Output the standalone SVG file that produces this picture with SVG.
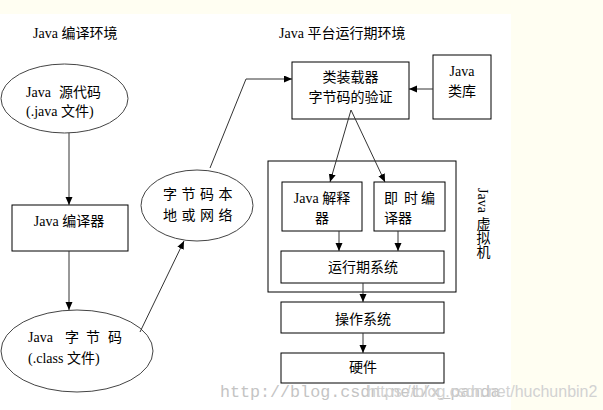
<svg xmlns="http://www.w3.org/2000/svg" width="603" height="410" viewBox="0 0 603 410">
<style>
  text { font-family: "Liberation Serif", "Noto Sans CJK SC", serif; font-size: 14px; fill: #000; }
  .c { text-anchor: middle; }
  .box { fill: #fff; stroke: #000; stroke-width: 1; }
  .ell { fill: #fff; stroke: #444; stroke-width: 1; }
  .ln { fill: none; stroke: #333; stroke-width: 1; }
  .wm1 { font-family: "Liberation Mono", monospace; font-size: 16.7px; fill: #c4c4c4; }
  .wm2 { font-family: "Liberation Sans", sans-serif; font-size: 16px; fill: #d2d2d2; }
</style>
<defs>
  <marker id="ah" markerUnits="userSpaceOnUse" markerWidth="9" markerHeight="8" refX="8" refY="3.5" orient="auto">
    <path d="M0,0 L8,3.5 L0,7 z" fill="#000"/>
  </marker>
</defs>
<rect x="0" y="0" width="603" height="410" fill="#fffef2"/>
<rect x="0" y="14" width="511" height="396" fill="#fff"/>

<text x="33" y="38">Java 编译环境</text>
<text x="279" y="38">Java 平台运行期环境</text>

<g id="src">
  <ellipse class="ell" cx="64.5" cy="98.5" rx="63.5" ry="34.5"/>
  <text y="97"><tspan x="26">Java</tspan><tspan x="59">源代码</tspan></text>
  <text x="26" y="116">(.java 文件)</text>
</g>
<g id="compiler">
  <rect class="box" x="12" y="205" width="116" height="46"/>
  <text class="c" x="69" y="226">Java 编译器</text>
</g>
<g id="bytecode">
  <ellipse class="ell" cx="77" cy="351" rx="76" ry="41"/>
  <text y="342"><tspan x="28">Java</tspan><tspan x="65">字</tspan><tspan x="86">节</tspan><tspan x="108">码</tspan></text>
  <text x="28" y="363">(.class 文件)</text>
</g>
<g id="net">
  <ellipse class="ell" cx="197" cy="205.5" rx="56" ry="35.5"/>
  <text y="199"><tspan x="163">字</tspan><tspan x="181.5">节</tspan><tspan x="200">码</tspan><tspan x="218.5">本</tspan></text>
  <text y="220"><tspan x="163">地</tspan><tspan x="181.5">或</tspan><tspan x="200">网</tspan><tspan x="218.5">络</tspan></text>
</g>
<g id="loader">
  <rect class="box" x="292" y="62" width="117" height="57"/>
  <text class="c" x="350.5" y="82">类装载器</text>
  <text class="c" x="350.5" y="102">字节码的验证</text>
</g>
<g id="lib">
  <rect class="box" x="433" y="55" width="58" height="64"/>
  <text class="c" x="462" y="76">Java</text>
  <text class="c" x="462" y="96">类库</text>
</g>
<g id="jvm">
  <rect class="box" x="268" y="161" width="188" height="131"/>
  <text x="482" y="188" style="writing-mode: vertical-rl;">Java 虚拟机</text>
</g>
<g id="interp">
  <rect class="box" x="282" y="182" width="80" height="49"/>
  <text class="c" x="322" y="203">Java 解释</text>
  <text class="c" x="322" y="223">器</text>
</g>
<g id="jit">
  <rect class="box" x="374" y="182" width="71" height="49"/>
  <text y="203"><tspan x="384">即</tspan><tspan x="404">时</tspan><tspan x="421">编</tspan></text>
  <text x="384" y="223">译器</text>
</g>
<g id="runtime">
  <rect class="box" x="281" y="251" width="163" height="32"/>
  <text class="c" x="363" y="272">运行期系统</text>
</g>
<g id="os">
  <rect class="box" x="281" y="302" width="163" height="31"/>
  <text class="c" x="363" y="324">操作系统</text>
</g>
<g id="hw">
  <rect class="box" x="281" y="353" width="163" height="30"/>
  <text class="c" x="363" y="372">硬件</text>
</g>

<g id="connectors">
  <line class="ln" x1="69" y1="133" x2="69" y2="205" marker-end="url(#ah)"/>
  <line class="ln" x1="69" y1="251" x2="69" y2="310" marker-end="url(#ah)"/>
  <line class="ln" x1="140" y1="332" x2="184" y2="241" marker-end="url(#ah)"/>
  <polyline class="ln" points="210,168 246,79 292,79" marker-end="url(#ah)"/>
  <line class="ln" x1="433" y1="89" x2="409" y2="89" marker-end="url(#ah)"/>
  <line class="ln" x1="351" y1="110" x2="330" y2="182" marker-end="url(#ah)"/>
  <line class="ln" x1="351" y1="110" x2="385" y2="182" marker-end="url(#ah)"/>
  <line class="ln" x1="339" y1="231" x2="339" y2="251" marker-end="url(#ah)"/>
  <line class="ln" x1="398" y1="231" x2="398" y2="251" marker-end="url(#ah)"/>
  <line class="ln" x1="363" y1="283" x2="363" y2="302" marker-end="url(#ah)"/>
  <line class="ln" x1="363" y1="333" x2="363" y2="353" marker-end="url(#ah)"/>
</g>

<text class="wm1" x="220" y="397">http://blog.csdn.net/x_panda</text>
<text class="wm2" x="367" y="397">https://blog.csdn.net/huchunbin2</text>
</svg>
